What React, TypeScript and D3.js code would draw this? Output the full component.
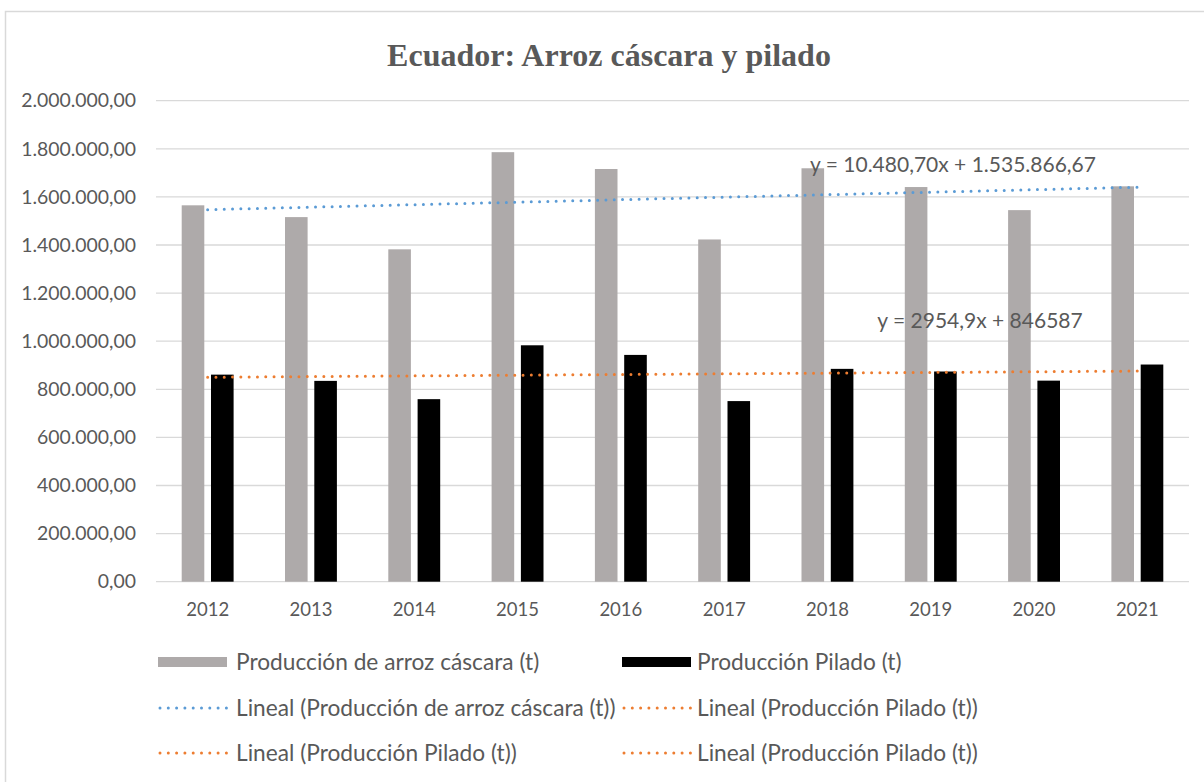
import React from 'react';
import * as d3 from 'd3';

// categories and series
const years = ['2012', '2013', '2014', '2015', '2016', '2017', '2018', '2019', '2020', '2021'];
const cascara = [1565000, 1516000, 1382000, 1786000, 1716000, 1423000, 1719000, 1641000, 1545000, 1644000];
const pilado = [861000, 835000, 759000, 983000, 943000, 751000, 885000, 874000, 836000, 903000];
const yTicks = [0, 200000, 400000, 600000, 800000, 1000000, 1200000, 1400000, 1600000, 1800000, 2000000];
const trendLabels = ['y = 10.480,70x + 1.535.866,67', 'y = 2954,9x + 846587'];
const legendItems = [
  'Producción de arroz cáscara (t)',
  'Producción Pilado (t)',
  'Lineal (Producción de arroz cáscara (t))',
  'Lineal (Producción Pilado (t))',
  'Lineal (Producción Pilado (t))',
  'Lineal (Producción Pilado (t))',
];

const W = 1204;
const H = 782;
const plot = { left: 156, right: 1189, top: 100.7, bottom: 581.7 };
const GRAY = '#AEAAAA';
const BLUE = '#5B9BD5';
const ORANGE = '#ED7D31';
const TEXT = '#595959';
const FONT = 'Lato, "Open Sans", sans-serif';

// least squares fit on x = 1..n
function linearFit(values: number[]) {
  const xs = values.map((_, i) => i + 1);
  const mx = d3.mean(xs) as number;
  const my = d3.mean(values) as number;
  const sxy = d3.sum(xs, (x, i) => (x - mx) * (values[i] - my));
  const sxx = d3.sum(xs, (x) => (x - mx) * (x - mx));
  const slope = sxy / sxx;
  return { slope, intercept: my - slope * mx };
}

const fmt = (v: number) =>
  d3.formatLocale({ decimal: ',', thousands: '.', grouping: [3], currency: ['', ''] }).format(',.2f')(v);

export default function App() {
  const x = d3.scaleBand<string>().domain(years).range([plot.left, plot.right]).paddingInner(0).paddingOuter(0);
  const y = d3.scaleLinear().domain([0, 2000000]).range([plot.bottom, plot.top]);

  const barW = 22.6;
  const gap = 6.7;
  const groupW = barW * 2 + gap;
  const offset = (x.bandwidth() - groupW) / 2;

  const trends = [
    { fit: linearFit(cascara), color: BLUE },
    { fit: linearFit(pilado), color: ORANGE },
  ];
  const trendLine = d3
    .line<number>()
    .x((_, i) => (x(years[i]) as number) + x.bandwidth() / 2)
    .y((v) => y(v));

  const legendRows = [662, 708, 753];
  const legendCols = [{ sw: 158, tx: 236 }, { sw: 622, tx: 697 }];
  const legendMarks = ['gray', 'black', BLUE, ORANGE, ORANGE, ORANGE];

  return (
    <svg width={W} height={H} style={{ position: 'absolute', left: 0, top: 0, background: '#fff' }}>
      <rect x={5.5} y={11.5} width={1210} height={800} fill="#fff" stroke="#D9D9D9" strokeWidth={1.5} />

      <text x={609} y={66} textAnchor="middle" fontFamily='"Liberation Serif", "Times New Roman", serif'
        fontWeight="bold" fontSize={32} fill={TEXT}>
        Ecuador: Arroz cáscara y pilado
      </text>

      {yTicks.map((t) => (
        <g key={t}>
          <line x1={plot.left} x2={plot.right} y1={y(t)} y2={y(t)} stroke="#D9D9D9" strokeWidth={1.3} />
          <text x={136} y={y(t)} dy="0.35em" textAnchor="end" fontFamily={FONT} fontSize={19.4} fill={TEXT}>
            {fmt(t)}
          </text>
        </g>
      ))}

      {years.map((yr, i) => {
        const x0 = (x(yr) as number) + offset;
        return (
          <g key={yr}>
            <rect x={x0} y={y(cascara[i])} width={barW} height={y(0) - y(cascara[i])} fill={GRAY} />
            <rect x={x0 + barW + gap} y={y(pilado[i])} width={barW} height={y(0) - y(pilado[i])} fill="#000" />
            <text x={(x(yr) as number) + x.bandwidth() / 2} y={610} dy="0.35em" textAnchor="middle"
              fontFamily={FONT} fontSize={18.5} fill={TEXT}>
              {yr}
            </text>
          </g>
        );
      })}

      {trends.map((t, k) => (
        <path key={k}
          d={trendLine(years.map((_, i) => t.fit.intercept + t.fit.slope * (i + 1))) as string}
          fill="none" stroke={t.color} strokeWidth={3} strokeLinecap="round" strokeDasharray="0 8.3" />
      ))}

      <text x={953} y={165} dy="0.35em" textAnchor="middle" fontFamily={FONT} fontSize={21} fill={TEXT}>
        {trendLabels[0]}
      </text>
      <text x={980} y={321} dy="0.35em" textAnchor="middle" fontFamily={FONT} fontSize={21} fill={TEXT}>
        {trendLabels[1]}
      </text>

      {legendItems.map((label, i) => {
        const row = legendRows[Math.floor(i / 2)];
        const col = legendCols[i % 2];
        const mark = legendMarks[i];
        return (
          <g key={i}>
            {i < 2 ? (
              <rect x={col.sw} y={row - 5} width={69} height={10} fill={mark === 'gray' ? GRAY : '#000'} />
            ) : (
              <line x1={col.sw + 2} x2={col.sw + 69} y1={row} y2={row} stroke={mark} strokeWidth={3}
                strokeLinecap="round" strokeDasharray="0 8.3" />
            )}
            <text x={col.tx} y={row} dy="0.35em" fontFamily={FONT} fontSize={22.7} fill={TEXT}>
              {label}
            </text>
          </g>
        );
      })}
    </svg>
  );
}
